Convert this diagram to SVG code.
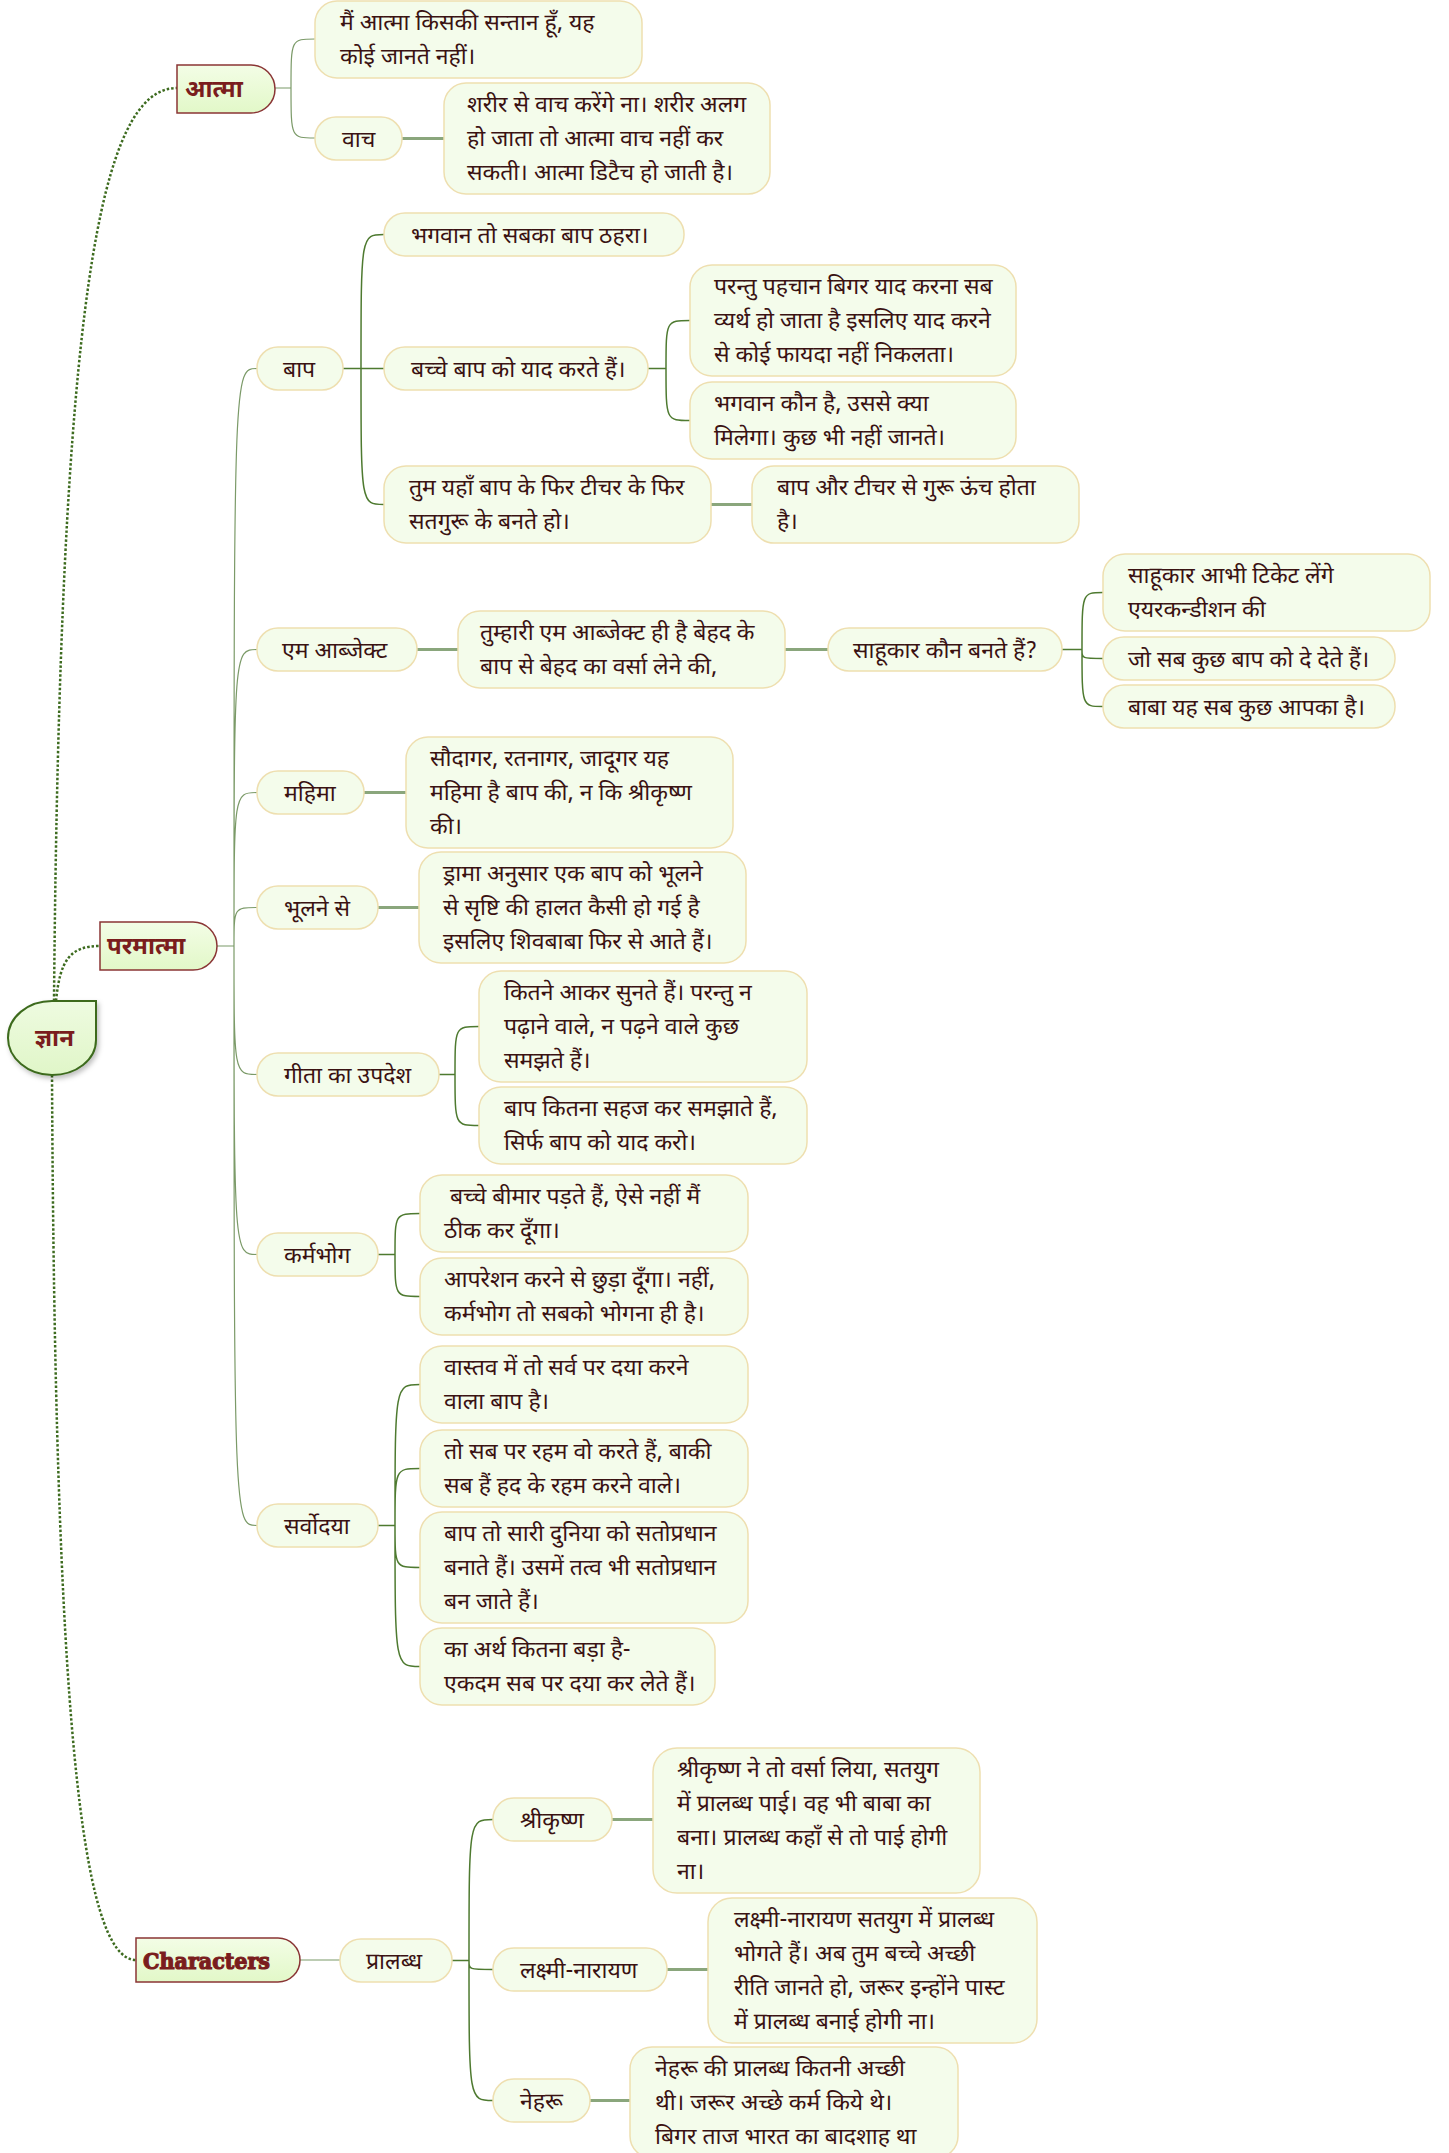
<svg xmlns="http://www.w3.org/2000/svg" width="1449" height="2153" viewBox="0 0 1449 2153">
<defs>
<linearGradient id="g1" x1="0" y1="0" x2="0" y2="1"><stop offset="0" stop-color="#f3fde6"/><stop offset="1" stop-color="#e2f8c8"/></linearGradient>
<linearGradient id="g0" x1="0" y1="0" x2="0" y2="1"><stop offset="0" stop-color="#eefbe0"/><stop offset="1" stop-color="#e0f6c8"/></linearGradient>
<filter id="sh" x="-20%" y="-20%" width="150%" height="150%"><feDropShadow dx="2" dy="3" stdDeviation="2.5" flood-color="#000" flood-opacity="0.25"/></filter>
</defs>
<style>
.b{fill:#f4fceb;stroke:#eedfb0;stroke-width:1.5}
.t{font-family:"Noto Sans Devanagari","Lohit Devanagari","Noto Sans",sans-serif;font-size:23px;fill:#3a1212}
.l1{fill:url(#g1);stroke:#8a3535;stroke-width:1.5}
.t1{font-family:"Noto Sans Devanagari","Lohit Devanagari","Noto Sans",sans-serif;font-size:24px;font-weight:bold;fill:#7a1d1d}
.c{fill:none;stroke:#4e7a30;stroke-width:1.5}
.cl{fill:none;stroke:#7b9a68;stroke-width:1.2}
.ck{fill:none;stroke:#8aa67c;stroke-width:3}
.cd{fill:none;stroke:#3d6b1f;stroke-width:2.5;stroke-dasharray:2.5 2}
</style>
<rect width="1449" height="2153" fill="#ffffff"/>
<g id="connectors">
<path class="cd" d="M54,1001 C60,300 100,88 177,88"/>
<path class="cd" d="M56,1001 C60,960 70,946 100,946"/>
<path class="cd" d="M52,1075 C55,1700 80,1960 136,1960"/>
<path class="cl" d="M275,88 H291 M291,88 C291,39 291,39 315,39 M291,88 C291,138 291,138 315,138"/>
<path class="ck" d="M402,138.5 H444"/>
<path class="cl" d="M217,946 H234 M234,946 C234,368.5 234,368.5 257,368.5 M234,946 C234,649.5 234,649.5 257,649.5 M234,946 C234,792.5 234,792.5 257,792.5 M234,946 C234,907.5 234,907.5 257,907.5 M234,946 C234,1074.5 234,1074.5 257,1074.5 M234,946 C234,1254.5 234,1254.5 257,1254.5 M234,946 C234,1525.5 234,1525.5 257,1525.5"/>
<path class="c" d="M343,368.5 H384 M361,368.5 C361,234.5 361,234.5 384,234.5 M361,368.5 C361,504.5 361,504.5 384,504.5"/>
<path class="c" d="M648,368.5 H666 M666,368.5 C666,320.5 666,320.5 690,320.5 M666,368.5 C666,420.5 666,420.5 690,420.5"/>
<path class="ck" d="M711,504.5 H752"/>
<path class="ck" d="M417,649.5 H458 M785,649.5 H828"/>
<path class="c" d="M1062,649.5 H1082 M1082,649.5 C1082,592.5 1082,592.5 1103,592.5 M1082,649.5 C1082,658.5 1082,658.5 1103,658.5 M1082,649.5 C1082,706.5 1082,706.5 1103,706.5"/>
<path class="ck" d="M364,792.5 H406 M378,907.5 H419"/>
<path class="c" d="M439,1074.5 H455 M455,1074.5 C455,1026.5 455,1026.5 479,1026.5 M455,1074.5 C455,1125.5 455,1125.5 479,1125.5"/>
<path class="c" d="M378,1254.5 H395 M395,1254.5 C395,1213.5 395,1213.5 420,1213.5 M395,1254.5 C395,1296.5 395,1296.5 420,1296.5"/>
<path class="c" d="M378,1525.5 H395 M395,1525.5 C395,1384.5 395,1384.5 420,1384.5 M395,1525.5 C395,1468.5 395,1468.5 420,1468.5 M395,1525.5 C395,1567.5 395,1567.5 420,1567.5 M395,1525.5 C395,1666.5 395,1666.5 420,1666.5"/>
<path class="cl" d="M300,1960 H340"/>
<path class="c" d="M452,1960.5 H469 M469,1960.5 C469,1819.5 469,1819.5 493,1819.5 M469,1960.5 C469,1969.5 469,1969.5 493,1969.5 M469,1960.5 C469,2100.5 469,2100.5 493,2100.5"/>
<path class="ck" d="M612,1819.5 H653 M667,1969.5 H708 M590,2100.5 H630"/>
</g>
<g id="root"><path d="M52,1001 H96 V1040 C96,1060 76,1075 52,1075 C28,1075 8,1058 8,1038 C8,1017 28,1001 52,1001 Z" fill="url(#g0)" stroke="#3d6b1f" stroke-width="2" filter="url(#sh)"/><text class="t1" x="35" y="1046">ज्ञान</text></g>
<g id="n-atma"><path class="l1" d="M177,65 H251 A24,24 0 0 1 275,89 A24,24 0 0 1 251,113 H177 Z"/><text class="t1" x="185" y="97">आत्मा</text></g>
<g id="n-paramatma"><path class="l1" d="M100,922 H193 A24,24 0 0 1 217,946 A24,24 0 0 1 193,970 H100 Z"/><text class="t1" x="107" y="954">परमात्मा</text></g>
<g id="n-characters"><path class="l1" d="M136,1938 H278 A22,22 0 0 1 300,1960 A22,22 0 0 1 278,1982 H136 Z"/><text x="143" y="1969" style="font-family:'DejaVu Serif',serif;font-weight:bold;font-size:22px;fill:#7a1d1d;stroke:#7a1d1d;stroke-width:1.2" textLength="127" lengthAdjust="spacingAndGlyphs">Characters</text></g>
<g id="n1"><rect class="b" x="315" y="1" width="327" height="77" rx="22"/><text class="t" x="340" y="30">मैं आत्मा किसकी सन्तान हूँ, यह</text><text class="t" x="340" y="64">कोई जानते नहीं।</text></g>
<g id="n2"><rect class="b" x="315" y="117" width="87" height="43" rx="21"/><text class="t" x="342" y="147">वाच</text></g>
<g id="n3"><rect class="b" x="444" y="83" width="326" height="111" rx="22"/><text class="t" x="467" y="112">शरीर से वाच करेंगे ना। शरीर अलग</text><text class="t" x="467" y="146">हो जाता तो आत्मा वाच नहीं कर</text><text class="t" x="467" y="180">सकती। आत्मा डिटैच हो जाती है।</text></g>
<g id="n4"><rect class="b" x="257" y="347" width="86" height="43" rx="21"/><text class="t" x="283" y="377">बाप</text></g>
<g id="n5"><rect class="b" x="384" y="213" width="300" height="43" rx="21"/><text class="t" x="411" y="243">भगवान तो सबका बाप ठहरा।</text></g>
<g id="n6"><rect class="b" x="384" y="347" width="264" height="43" rx="21"/><text class="t" x="411" y="377">बच्चे बाप को याद करते हैं।</text></g>
<g id="n7"><rect class="b" x="690" y="265" width="326" height="111" rx="22"/><text class="t" x="714" y="294">परन्तु पहचान बिगर याद करना सब</text><text class="t" x="714" y="328">व्यर्थ हो जाता है इसलिए याद करने</text><text class="t" x="714" y="362">से कोई फायदा नहीं निकलता।</text></g>
<g id="n8"><rect class="b" x="690" y="382" width="326" height="77" rx="22"/><text class="t" x="714" y="411">भगवान कौन है, उससे क्या</text><text class="t" x="714" y="445">मिलेगा। कुछ भी नहीं जानते।</text></g>
<g id="n9"><rect class="b" x="384" y="466" width="327" height="77" rx="22"/><text class="t" x="409" y="495">तुम यहाँ बाप के फिर टीचर के फिर</text><text class="t" x="409" y="529">सतगुरू के बनते हो।</text></g>
<g id="n10"><rect class="b" x="752" y="466" width="327" height="77" rx="22"/><text class="t" x="777" y="495">बाप और टीचर से गुरू ऊंच होता</text><text class="t" x="777" y="529">है।</text></g>
<g id="n11"><rect class="b" x="257" y="628" width="160" height="43" rx="21"/><text class="t" x="282" y="658">एम आब्जेक्ट</text></g>
<g id="n12"><rect class="b" x="458" y="611" width="327" height="77" rx="22"/><text class="t" x="480" y="640">तुम्हारी एम आब्जेक्ट ही है बेहद के</text><text class="t" x="480" y="674">बाप से बेहद का वर्सा लेने की,</text></g>
<g id="n13"><rect class="b" x="828" y="628" width="234" height="43" rx="21"/><text class="t" x="853" y="658">साहूकार कौन बनते हैं?</text></g>
<g id="n14"><rect class="b" x="1103" y="554" width="327" height="77" rx="22"/><text class="t" x="1128" y="583">साहूकार आभी टिकेट लेंगे</text><text class="t" x="1128" y="617">एयरकन्डीशन की</text></g>
<g id="n15"><rect class="b" x="1103" y="637" width="292" height="43" rx="21"/><text class="t" x="1128" y="667">जो सब कुछ बाप को दे देते हैं।</text></g>
<g id="n16"><rect class="b" x="1103" y="685" width="292" height="43" rx="21"/><text class="t" x="1128" y="715">बाबा यह सब कुछ आपका है।</text></g>
<g id="n17"><rect class="b" x="257" y="771" width="107" height="43" rx="21"/><text class="t" x="284" y="801">महिमा</text></g>
<g id="n18"><rect class="b" x="406" y="737" width="327" height="111" rx="22"/><text class="t" x="430" y="766">सौदागर, रतनागर, जादूगर यह</text><text class="t" x="430" y="800">महिमा है बाप की, न कि श्रीकृष्ण</text><text class="t" x="430" y="834">की।</text></g>
<g id="n19"><rect class="b" x="257" y="886" width="121" height="43" rx="21"/><text class="t" x="284" y="916">भूलने से</text></g>
<g id="n20"><rect class="b" x="419" y="852" width="327" height="111" rx="22"/><text class="t" x="443" y="881">ड्रामा अनुसार एक बाप को भूलने</text><text class="t" x="443" y="915">से सृष्टि की हालत कैसी हो गई है</text><text class="t" x="443" y="949">इसलिए शिवबाबा फिर से आते हैं।</text></g>
<g id="n21"><rect class="b" x="257" y="1053" width="182" height="43" rx="21"/><text class="t" x="284" y="1083">गीता का उपदेश</text></g>
<g id="n22"><rect class="b" x="479" y="971" width="328" height="111" rx="22"/><text class="t" x="504" y="1000">कितने आकर सुनते हैं। परन्तु न</text><text class="t" x="504" y="1034">पढ़ाने वाले, न पढ़ने वाले कुछ</text><text class="t" x="504" y="1068">समझते हैं।</text></g>
<g id="n23"><rect class="b" x="479" y="1087" width="328" height="77" rx="22"/><text class="t" x="504" y="1116">बाप कितना सहज कर समझाते हैं,</text><text class="t" x="504" y="1150">सिर्फ बाप को याद करो।</text></g>
<g id="n24"><rect class="b" x="257" y="1233" width="121" height="43" rx="21"/><text class="t" x="284" y="1263">कर्मभोग</text></g>
<g id="n25"><rect class="b" x="420" y="1175" width="328" height="77" rx="22"/><text class="t" x="444" y="1204" xml:space="preserve"> बच्चे बीमार पड़ते हैं, ऐसे नहीं मैं</text><text class="t" x="444" y="1238">ठीक कर दूँगा।</text></g>
<g id="n26"><rect class="b" x="420" y="1258" width="328" height="77" rx="22"/><text class="t" x="444" y="1287">आपरेशन करने से छुड़ा दूँगा। नहीं,</text><text class="t" x="444" y="1321">कर्मभोग तो सबको भोगना ही है।</text></g>
<g id="n27"><rect class="b" x="257" y="1504" width="121" height="43" rx="21"/><text class="t" x="284" y="1534">सर्वोदया</text></g>
<g id="n28"><rect class="b" x="420" y="1346" width="328" height="77" rx="22"/><text class="t" x="444" y="1375">वास्तव में तो सर्व पर दया करने</text><text class="t" x="444" y="1409">वाला बाप है।</text></g>
<g id="n29"><rect class="b" x="420" y="1430" width="328" height="77" rx="22"/><text class="t" x="444" y="1459">तो सब पर रहम वो करते हैं, बाकी</text><text class="t" x="444" y="1493">सब हैं हद के रहम करने वाले।</text></g>
<g id="n30"><rect class="b" x="420" y="1512" width="328" height="111" rx="22"/><text class="t" x="444" y="1541">बाप तो सारी दुनिया को सतोप्रधान</text><text class="t" x="444" y="1575">बनाते हैं। उसमें तत्व भी सतोप्रधान</text><text class="t" x="444" y="1609">बन जाते हैं।</text></g>
<g id="n31"><rect class="b" x="420" y="1628" width="295" height="77" rx="22"/><text class="t" x="444" y="1657">का अर्थ कितना बड़ा है-</text><text class="t" x="444" y="1691">एकदम सब पर दया कर लेते हैं।</text></g>
<g id="n32"><rect class="b" x="340" y="1939" width="112" height="43" rx="21"/><text class="t" x="366" y="1969">प्रालब्ध</text></g>
<g id="n33"><rect class="b" x="493" y="1798" width="119" height="43" rx="21"/><text class="t" x="520" y="1828">श्रीकृष्ण</text></g>
<g id="n34"><rect class="b" x="653" y="1748" width="327" height="145" rx="24"/><text class="t" x="677" y="1777">श्रीकृष्ण ने तो वर्सा लिया, सतयुग</text><text class="t" x="677" y="1811">में प्रालब्ध पाई। वह भी बाबा का</text><text class="t" x="677" y="1845">बना। प्रालब्ध कहाँ से तो पाई होगी</text><text class="t" x="677" y="1879">ना।</text></g>
<g id="n35"><rect class="b" x="493" y="1948" width="174" height="43" rx="21"/><text class="t" x="520" y="1978">लक्ष्मी-नारायण</text></g>
<g id="n36"><rect class="b" x="708" y="1898" width="329" height="145" rx="24"/><text class="t" x="734" y="1927">लक्ष्मी-नारायण सतयुग में प्रालब्ध</text><text class="t" x="734" y="1961">भोगते हैं। अब तुम बच्चे अच्छी</text><text class="t" x="734" y="1995">रीति जानते हो, जरूर इन्होंने पास्ट</text><text class="t" x="734" y="2029">में प्रालब्ध बनाई होगी ना।</text></g>
<g id="n37"><rect class="b" x="493" y="2079" width="97" height="43" rx="21"/><text class="t" x="520" y="2109">नेहरू</text></g>
<g id="n38"><rect class="b" x="630" y="2047" width="328" height="111" rx="22"/><text class="t" x="655" y="2076">नेहरू की प्रालब्ध कितनी अच्छी</text><text class="t" x="655" y="2110">थी। जरूर अच्छे कर्म किये थे।</text><text class="t" x="655" y="2144">बिगर ताज भारत का बादशाह था</text></g>
</svg>
